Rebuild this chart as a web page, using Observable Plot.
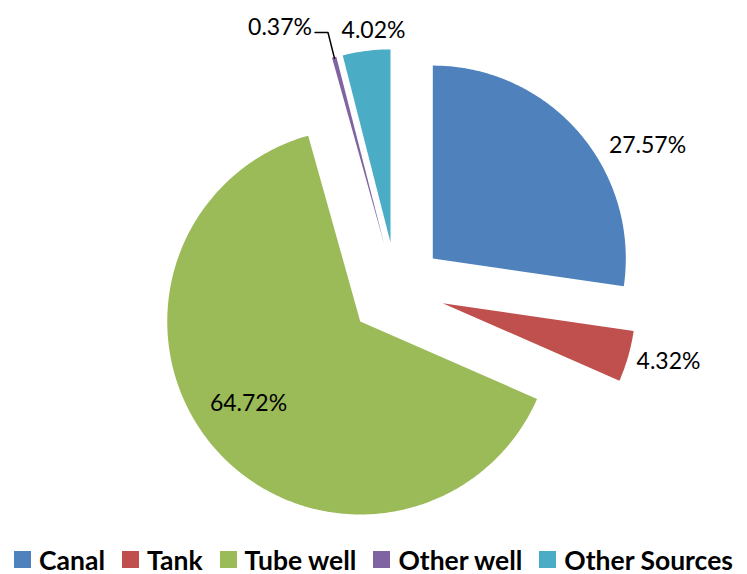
<!DOCTYPE html>
<html><head><meta charset="utf-8">
<script src="https://cdn.jsdelivr.net/npm/d3@7"></script>
<script src="https://cdn.jsdelivr.net/npm/@observablehq/plot@0.6"></script>
<style>
body{margin:0;background:#fff;}
#legend{display:flex;justify-content:center;align-items:center;height:29px;font-family:Lato,"Open Sans",sans-serif;font-weight:bold;font-size:26.5px;color:#000;}
#legend .item{display:flex;align-items:center;margin:0 8.5px;}
#legend .sw{width:17px;height:17px;margin-right:8px;}
</style></head><body><div id="chart"></div><div id="legend"></div><script>
const categories = ["Canal", "Tank", "Tube well", "Other well", "Other Sources"];
const shares = [27.57, 4.32, 64.72, 0.37, 4.02];
const colors = ["#4F81BD", "#C0504D", "#9BBB59", "#8064A2", "#4BACC6"];
const labels = shares.map(v => v.toFixed(2) + "%");

// layout
const W = 747, H = 545, CX = 396, CY = 289.5, R = 193, EXPLODE = 48;
const labelAngle = [60.15, 104.7, 232.4, 336.07, 354.94];
const labelRadius = [289.4, 281.2, 186.8, 287.2, 260.5];

const arcs = d3.pie().sort(null).value(d => d)(shares);
const pts = [];
arcs.forEach((a, i) => {
  const name = categories[i];
  const mid = (a.startAngle + a.endAngle) / 2;
  const ox = CX + EXPLODE * Math.sin(mid), oy = CY - EXPLODE * Math.cos(mid);
  pts.push({name, x: ox, y: oy});
  const n = Math.max(2, Math.ceil((a.endAngle - a.startAngle) / 0.01));
  for (let k = 0; k <= n; k++) {
    const t = a.startAngle + (a.endAngle - a.startAngle) * k / n;
    pts.push({name, x: ox + R * Math.sin(t), y: oy - R * Math.cos(t)});
  }
  pts.push({name, x: ox, y: oy});
});

const labelData = labels.map((t, i) => {
  const ang = labelAngle[i] * Math.PI / 180;
  return {text: t, x: CX + labelRadius[i] * Math.sin(ang), y: CY - labelRadius[i] * Math.cos(ang)};
});

// leader line for the thin "Other well" slice
const ow = arcs[3];
const owMid = (ow.startAngle + ow.endAngle) / 2;
const owEnd = {
  x: CX + EXPLODE * Math.sin(owMid) + (R - 1) * Math.sin(owMid),
  y: CY - EXPLODE * Math.cos(owMid) - (R - 1) * Math.cos(owMid)
};
const lp = labelData[3];
const leader = [
  {x: lp.x + 35, y: lp.y + 5},
  {x: lp.x + 48, y: lp.y + 5},
  owEnd
];

const chart = Plot.plot({
  width: W, height: H,
  margin: 0,
  x: {domain: [0, W], range: [0, W], axis: null},
  y: {domain: [0, H], range: [0, H], axis: null},
  color: {domain: categories, range: colors},
  style: {background: "#fff"},
  marks: [
    Plot.line(pts, {x: "x", y: "y", z: "name", fill: "name", stroke: "none"}),
    Plot.line(leader, {x: "x", y: "y", stroke: "#000", strokeWidth: 1.5}),
    Plot.text(labelData, {x: "x", y: "y", text: "text", fontSize: 23, fontFamily: "Lato, 'Open Sans', sans-serif", textAnchor: "middle", lineAnchor: "middle", fill: "#000"})
  ]
});
document.getElementById("chart").appendChild(chart);

const legend = document.getElementById("legend");
categories.forEach((c, i) => {
  const item = document.createElement("div");
  item.className = "item";
  const sw = document.createElement("div");
  sw.className = "sw";
  sw.style.background = colors[i];
  const tx = document.createElement("span");
  tx.textContent = c;
  item.appendChild(sw);
  item.appendChild(tx);
  legend.appendChild(item);
});
</script></body></html>
